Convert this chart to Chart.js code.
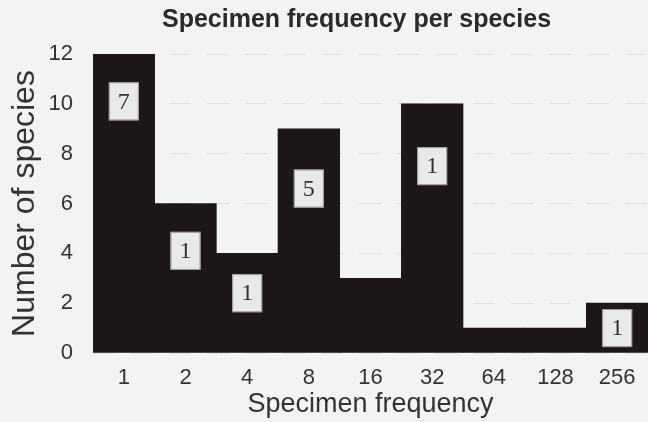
<!DOCTYPE html>
<html><head><meta charset="utf-8">
<script src="https://cdn.jsdelivr.net/npm/chart.js@4/dist/chart.umd.min.js"></script>
<style>html,body{margin:0;padding:0;background:#f3f3f1;}#wrap{width:648px;height:422px;}</style>
</head><body><div id="wrap"><canvas id="c" width="648" height="422"></canvas></div>
<script>
const categories = ['1','2','4','8','16','32','64','128','256'];
const speciesCounts = [12, 6, 4, 9, 3, 10, 1, 1, 2];
const boxLabels = ['7','1','1','5','','1','','','1'];
const boxLabelAt = [10.1, 4.1, 2.4, 6.6, null, 7.5, null, null, 1.0];
const yTicks = [0, 2, 4, 6, 8, 10, 12];
const titleText = 'Specimen frequency per species';
const xTitle = 'Specimen frequency';
const yTitle = 'Number of species';

const sans = "'Liberation Sans', Arial, sans-serif";
const serif = "'Liberation Serif', 'Times New Roman', serif";

const bgPlugin = {
  id: 'bg',
  beforeDraw(chart) {
    const ctx = chart.ctx;
    ctx.save();
    ctx.fillStyle = '#f3f3f1';
    ctx.fillRect(0, 0, chart.width, chart.height);
    ctx.restore();
  }
};

const titlePlugin = {
  id: 'customTitle',
  afterDraw(chart) {
    const ctx = chart.ctx;
    const a = chart.chartArea;
    ctx.save();
    ctx.font = "bold 25px " + sans;
    ctx.fillStyle = '#2a2a2a';
    ctx.textAlign = 'center';
    ctx.textBaseline = 'middle';
    ctx.fillText(titleText, (a.left + a.right) / 2 - 14, 20);
    ctx.restore();
  }
};

const boxPlugin = {
  id: 'boxes',
  afterDatasetsDraw(chart) {
    const ctx = chart.ctx;
    const meta = chart.getDatasetMeta(0);
    const ys = chart.scales.y;
    ctx.save();
    boxLabels.forEach((t, i) => {
      if (!t || boxLabelAt[i] == null) return;
      const bar = meta.data[i];
      const cx = bar.x;
      const cy = ys.getPixelForValue(boxLabelAt[i]);
      const w = 30, h = 38;
      ctx.fillStyle = '#e9e9e7';
      ctx.fillRect(cx - w / 2, cy - h / 2, w, h);
      ctx.strokeStyle = '#9a9a98';
      ctx.lineWidth = 1;
      ctx.strokeRect(cx - w / 2 + 0.5, cy - h / 2 + 0.5, w - 1, h - 1);
      ctx.fillStyle = '#333';
      ctx.font = "24px " + serif;
      ctx.textAlign = 'center';
      ctx.textBaseline = 'middle';
      ctx.fillText(t, cx, cy + 1);
    });
    ctx.restore();
  }
};

new Chart(document.getElementById('c'), {
  type: 'bar',
  data: {
    labels: categories,
    datasets: [{
      data: speciesCounts,
      backgroundColor: '#1d1717',
      borderWidth: 0,
      categoryPercentage: 1.0,
      barPercentage: 1.0
    }]
  },
  options: {
    responsive: false,
    animation: false,
    devicePixelRatio: 1,
    layout: { padding: { top: 54, right: 0, left: 0, bottom: 0 } },
    plugins: { legend: { display: false }, title: { display: false }, tooltip: { enabled: false } },
    scales: {
      x: {
        grid: { display: false, drawTicks: false },
        border: { display: false },
        ticks: { color: '#333', font: { family: sans, size: 22 }, padding: 12, maxRotation: 0, autoSkip: false },
        title: { display: true, text: xTitle, color: '#333', font: { family: sans, size: 27 }, padding: { top: 0, bottom: 1 } },
        afterFit(s) { s.height = 69; }
      },
      y: {
        min: 0, max: 12,
        afterBuildTicks(s) { s.ticks = yTicks.map(v => ({ value: v })); },
        grid: { color: '#e0e0de', lineWidth: 1, drawTicks: false },
        border: { display: false, dash: [22, 16] },
        ticks: { color: '#333', font: { family: sans, size: 22 }, padding: 20 },
        title: { display: true, text: yTitle, color: '#333', font: { family: sans, size: 32 }, padding: { top: 6, bottom: 0 } },
        afterFit(s) { s.width = 93; }
      }
    }
  },
  plugins: [bgPlugin, titlePlugin, boxPlugin]
});
</script>
</body></html>
